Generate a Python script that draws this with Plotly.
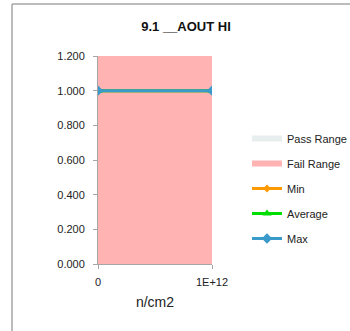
import plotly.graph_objects as go

x_vals = [0, 1e12]
x_ticklabels = ["0", "1E+12"]
pass_range = [0, 0]
fail_range = [1.2, 1.2]
min_vals = [1.0, 1.0]
avg_vals = [1.0, 1.0]
max_vals = [1.0, 1.0]
y_ticks = [0, 0.2, 0.4, 0.6, 0.8, 1.0, 1.2]

FONT = "Liberation Sans"
fig = go.Figure()
fig.add_trace(go.Scatter(x=x_vals, y=pass_range, name="Pass Range", mode="none",
                         fill="tozeroy", fillcolor="#E8EDED", legendgroup="a"))
fig.add_trace(go.Scatter(x=x_vals, y=fail_range, name="Fail Range", mode="none",
                         fill="tozeroy", fillcolor="#FFB3B3", legendgroup="b"))
fig.add_trace(go.Scatter(x=x_vals, y=min_vals, name="Min", mode="lines+markers",
                         line=dict(color="#FF9900", width=3),
                         marker=dict(symbol="diamond", size=6, color="#FF9900"), legendgroup="c"))
fig.add_trace(go.Scatter(x=x_vals, y=avg_vals, name="Average", mode="lines+markers",
                         line=dict(color="#00DD00", width=3),
                         marker=dict(symbol="triangle-up", size=8, color="#00DD00"), legendgroup="d"))
fig.add_trace(go.Scatter(x=x_vals, y=max_vals, name="Max", mode="lines+markers",
                         line=dict(color="#3A9AC9", width=3),
                         marker=dict(symbol="diamond", size=8, color="#3A9AC9"), legendgroup="e"))

# outer chart border (top and left edges visible)
x0 = (12 - 98) / 114
y1 = (264 - 4) / 208
fig.add_shape(type="line", xref="paper", yref="paper", x0=x0, x1=2.5, y0=y1, y1=y1,
              line=dict(color="#A6A6A6", width=1.5))
fig.add_shape(type="line", xref="paper", yref="paper", x0=x0, x1=x0, y0=y1, y1=-0.5,
              line=dict(color="#A6A6A6", width=1.5))

fig.update_layout(
    width=350, height=331,
    margin=dict(l=98, r=138, t=56, b=67, autoexpand=False),
    paper_bgcolor="white", plot_bgcolor="white",
    font=dict(family=FONT, size=11, color="#222222"),
    title=dict(text="<b>9.1 __AOUT HI</b>", x=186 / 350, xanchor="center",
               y=1 - 26 / 331, yanchor="middle", font=dict(size=13, family=FONT, color="#111111")),
    showlegend=True,
    legend=dict(x=(247 - 98) / 114, y=(264 - 124) / 208, xanchor="left", yanchor="top",
                tracegroupgap=6, traceorder="grouped", font=dict(size=11, family=FONT),
                bgcolor="rgba(0,0,0,0)", itemwidth=30),
    xaxis=dict(range=[0, 1e12], tickmode="array", tickvals=x_vals, ticktext=x_ticklabels,
               showgrid=False, zeroline=False, showline=True, linecolor="#A6A6A6", linewidth=1,
               ticks="outside", ticklen=4, tickcolor="#A6A6A6", ticklabelstandoff=4,
               title=dict(text="n/cm2", font=dict(size=14, family=FONT), standoff=9)),
    yaxis=dict(range=[0, 1.2], tickmode="array", tickvals=y_ticks,
               ticktext=[f"{v:.3f}" for v in y_ticks],
               showgrid=False, zeroline=False, showline=True, linecolor="#A6A6A6", linewidth=1,
               ticks="outside", ticklen=4, tickcolor="#A6A6A6", ticklabelstandoff=6),
)
fig.write_html("out.html", config={"displayModeBar": False},
               post_script="document.body.style.margin='0';document.body.style.overflow='hidden';")
